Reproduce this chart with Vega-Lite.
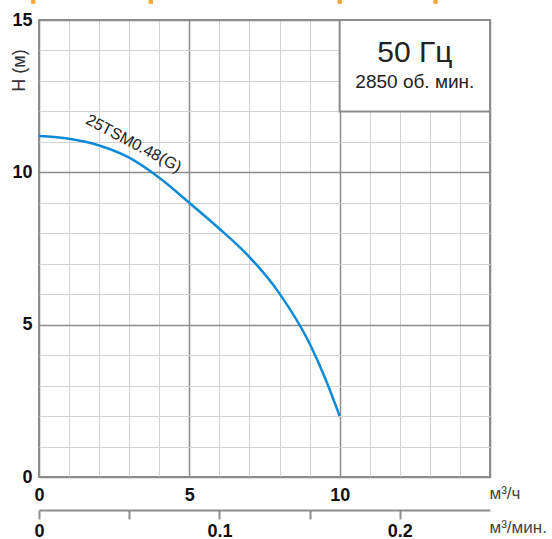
{
  "$schema": "https://vega.github.io/schema/vega-lite/v6.json",
  "width": 451,
  "height": 457,
  "autosize": {"type": "none"},
  "padding": {"left": 39, "top": 20, "right": 62, "bottom": 62},
  "background": "white",
  "config": {
    "font": "Liberation Sans",
    "view": {"stroke": "#8c8c8c", "strokeWidth": 2}
  },
  "datasets": {
    "curve": [
      {"q": 0, "h": 11.19},
      {"q": 1, "h": 11.1},
      {"q": 2, "h": 10.88},
      {"q": 3, "h": 10.48},
      {"q": 4, "h": 9.82},
      {"q": 5, "h": 9.0},
      {"q": 6, "h": 8.15},
      {"q": 7, "h": 7.22},
      {"q": 8, "h": 6.02},
      {"q": 9, "h": 4.38},
      {"q": 9.5, "h": 3.28},
      {"q": 10, "h": 2.0}
    ],
    "box": [{"q": 10, "q2": 15, "h": 12, "h2": 15}],
    "curve_label": [{"q": 3.15, "h": 10.95, "text": "25TSM0.48(G)"}],
    "freq": [{"q": 12.5, "h": 13.93, "text": "50 Гц"}],
    "speed": [{"q": 12.5, "h": 12.95, "text": "2850 об. мин."}],
    "marks": [
      {"q": -0.19, "h": 15.6},
      {"q": 3.72, "h": 15.6},
      {"q": 10.0, "h": 15.6},
      {"q": 13.19, "h": 15.6}
    ],
    "flow_min": [
      {"qmin": 0},
      {"qmin": 0.25}
    ]
  },
  "layer": [
    {
      "encoding": {
        "x": {
          "field": "q",
          "type": "quantitative",
          "scale": {"domain": [0, 15], "nice": false, "zero": true},
          "axis": {
            "orient": "bottom",
            "values": [0, 1, 2, 3, 4, 5, 6, 7, 8, 9, 10, 11, 12, 13, 14, 15],
            "grid": true,
            "gridColor": {"condition": {"test": "datum.value % 5 === 0", "value": "#8c8c8c"}, "value": "#d2d2d2"},
            "gridWidth": {"condition": {"test": "datum.value % 5 === 0", "value": 1.5}, "value": 1},
            "labelExpr": "datum.value % 5 === 0 && datum.value < 15 ? datum.label : ''",
            "labelOverlap": false,
            "labelFlush": false,
            "ticks": false,
            "domain": false,
            "labelFontWeight": "bold",
            "labelFontSize": 18,
            "labelColor": "#111",
            "labelPadding": 9,
            "title": "м³/ч",
            "titleX": 450,
            "titleY": 16,
            "titleAlign": "left",
            "titleBaseline": "middle",
            "titleAngle": 0,
            "titleFontWeight": "normal",
            "titleFontSize": 17,
            "titleColor": "#444"
          }
        },
        "y": {
          "field": "h",
          "type": "quantitative",
          "scale": {"domain": [0, 15], "nice": false, "zero": true},
          "axis": {
            "values": [0, 1, 2, 3, 4, 5, 6, 7, 8, 9, 10, 11, 12, 13, 14, 15],
            "grid": true,
            "gridColor": {"condition": {"test": "datum.value % 5 === 0", "value": "#8c8c8c"}, "value": "#d2d2d2"},
            "gridWidth": {"condition": {"test": "datum.value % 5 === 0", "value": 1.5}, "value": 1},
            "labelExpr": "datum.value % 5 === 0 ? datum.label : ''",
            "labelOverlap": false,
            "labelFlush": false,
            "ticks": false,
            "domain": false,
            "labelFontWeight": "bold",
            "labelFontSize": 18,
            "labelColor": "#111",
            "labelPadding": 7,
            "title": "H (м)",
            "titleAngle": 270,
            "titleX": -19.5,
            "titleY": 50,
            "titleAlign": "center",
            "titleBaseline": "middle",
            "titleFontWeight": "normal",
            "titleFontSize": 18,
            "titleColor": "#333"
          }
        }
      },
      "layer": [
        {
          "data": {"name": "curve"},
          "mark": {"type": "line", "interpolate": "monotone", "color": "#0d8ad6", "strokeWidth": 2.5}
        },
        {
          "data": {"name": "box"},
          "mark": {"type": "rect", "fill": "white", "stroke": "#8c8c8c", "strokeWidth": 2},
          "encoding": {
            "x2": {"field": "q2"},
            "y2": {"field": "h2"}
          }
        },
        {
          "data": {"name": "curve_label"},
          "mark": {"type": "text", "angle": 28, "align": "center", "baseline": "middle", "fontSize": 16, "color": "#222"},
          "encoding": {"text": {"field": "text"}}
        },
        {
          "data": {"name": "freq"},
          "mark": {"type": "text", "align": "center", "baseline": "middle", "fontSize": 30, "color": "#222"},
          "encoding": {"text": {"field": "text"}}
        },
        {
          "data": {"name": "speed"},
          "mark": {"type": "text", "align": "center", "baseline": "middle", "fontSize": 19, "color": "#222"},
          "encoding": {"text": {"field": "text"}}
        },
        {
          "data": {"name": "marks"},
          "mark": {"type": "point", "shape": "square", "filled": true, "size": 18, "color": "#f7a531", "opacity": 1}
        }
      ]
    },
    {
      "data": {"name": "flow_min"},
      "mark": {"type": "point", "opacity": 0},
      "encoding": {
        "x": {
          "field": "qmin",
          "type": "quantitative",
          "scale": {"domain": [0, 0.25], "nice": false, "zero": true},
          "axis": {
            "orient": "bottom",
            "offset": 33,
            "values": [0, 0.05, 0.1, 0.15, 0.2],
            "format": "~g",
            "labelExpr": "datum.value === 0 || datum.value === 0.1 || datum.value === 0.2 ? datum.label : ''",
            "labelOverlap": false,
            "labelFlush": false,
            "grid": false,
            "domain": true,
            "domainColor": "#8c8c8c",
            "domainWidth": 2,
            "ticks": true,
            "tickColor": "#8c8c8c",
            "tickWidth": 2,
            "tickSize": 9,
            "labelFontWeight": "bold",
            "labelFontSize": 18,
            "labelColor": "#111",
            "labelPadding": 3,
            "title": "м³/мин.",
            "titleX": 450,
            "titleY": 17,
            "titleAlign": "left",
            "titleBaseline": "middle",
            "titleAngle": 0,
            "titleFontWeight": "normal",
            "titleFontSize": 17,
            "titleColor": "#444"
          }
        }
      }
    }
  ],
  "resolve": {"scale": {"x": "independent"}, "axis": {"x": "independent"}}
}
